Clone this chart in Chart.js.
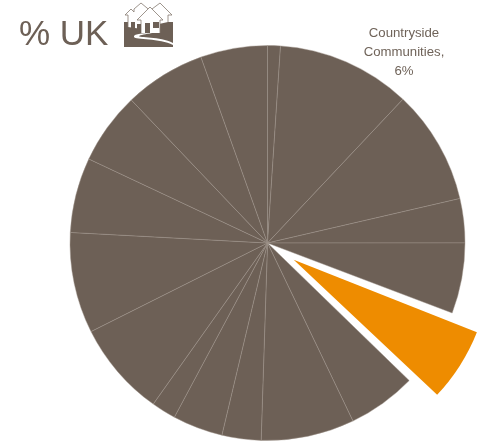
<!DOCTYPE html>
<html>
<head>
<meta charset="utf-8">
<style>
html,body{margin:0;padding:0;background:#fff;overflow:hidden}
#wrap{position:relative;width:487px;height:442px}
</style>
<script src="https://cdn.jsdelivr.net/npm/chart.js@4"></script>
</head>
<body>
<div id="wrap"><canvas id="chart" width="487" height="442"></canvas></div>
<script>
// Segment names and shares; only the highlighted segment carries a label.
const categories = ['S1','S2','S3','S4','S5','Countryside Communities','S7','S8','S9','S10','S11','S12','S13','S14','S15','S16','S17'];
const shares = [0.97,10.13,8.64,3.33,5.33,6,5.18,7.05,2.95,3.79,1.85,7.18,7.62,5.67,5.44,6.13,5.05];
const highlighted = 'Countryside Communities';
const titleText = '% UK';

const BROWN = '#6d6056';
const ORANGE = '#ee8c00';
const PIE_RADIUS = 197.5;
const EXPLODE_OFFSET = 124;
const isHighlighted = i => categories[i] === highlighted;

// Small village pictogram beside the heading.
function drawVillageIcon(ctx) {
  ctx.save();
  ctx.fillStyle = BROWN;
  ctx.fillRect(124, 22, 49, 25);
  ctx.lineWidth = 0.8;
  ctx.strokeStyle = '#857a70';
  ctx.lineJoin = 'miter';
  const houses = [
    [[128,27],[128,15],[125,15],[131,9],[134,12],[134,9],[141,3],[153,13],[149,13],[149,30]],
    [[150,26],[150,12],[148,12],[160,3],[172,15],[168,15],[168,22]],
    [[141,33],[141,20],[137,20],[150,7],[163,20],[160,20],[160,33]]
  ];
  houses.forEach(points => {
    ctx.beginPath();
    points.forEach(([x, y], i) => i ? ctx.lineTo(x, y) : ctx.moveTo(x, y));
    ctx.fillStyle = '#fff';
    ctx.fill();
    ctx.stroke();
  });
  ctx.fillStyle = BROWN;
  ctx.fillRect(145, 23, 5, 10);
  ctx.fillRect(153, 22, 6, 6);
  ctx.fillRect(131, 22, 4, 11);
  ctx.fillRect(137, 24, 4, 9);
  ctx.fillRect(124, 33, 49, 14);
  // Winding road through the ground block.
  ctx.fillStyle = '#fff';
  ctx.beginPath();
  ctx.moveTo(152, 33);
  ctx.bezierCurveTo(142, 33, 133, 34, 134, 37);
  ctx.bezierCurveTo(135, 40, 160, 38, 173, 45);
  ctx.lineTo(173, 43);
  ctx.bezierCurveTo(160, 36, 138, 38, 139, 36);
  ctx.bezierCurveTo(140, 35, 146, 34, 152, 33);
  ctx.closePath();
  ctx.fill();
  ctx.restore();
}

// Arc elements widen their outer radius along with the offset;
// this keeps the exploded slice at the same radius as the rest of the pie.
const keepExplodedRadius = {
  id: 'keepExplodedRadius',
  afterDatasetsUpdate(chart) {
    chart.getDatasetMeta(0).data.forEach((arc, i) => {
      if (isHighlighted(i)) arc.outerRadius = PIE_RADIUS - EXPLODE_OFFSET / 6.5;
    });
  }
};

const annotations = {
  id: 'annotations',
  afterDraw(chart) {
    const ctx = chart.ctx;
    ctx.save();
    ctx.fillStyle = BROWN;
    ctx.textBaseline = 'alphabetic';
    ctx.textAlign = 'left';
    ctx.font = '35px "Liberation Sans"';
    ctx.fillText(titleText, 19, 45);
    ctx.fillStyle = '#6f6359';
    ctx.textAlign = 'center';
    ctx.font = '13.2px "Liberation Sans"';
    const idx = categories.indexOf(highlighted);
    const words = highlighted.split(' ');
    const lines = [words[0], words[1] + ',', shares[idx] + '%'];
    lines.forEach((line, i) => ctx.fillText(line, 404, 37 + i * 19));
    ctx.restore();
    drawVillageIcon(ctx);
  }
};

new Chart(document.getElementById('chart'), {
  type: 'pie',
  data: {
    labels: categories,
    datasets: [{
      data: shares,
      radius: PIE_RADIUS,
      backgroundColor: categories.map((_, i) => isHighlighted(i) ? ORANGE : BROWN),
      borderColor: '#a0968e',
      borderWidth: categories.map((_, i) => isHighlighted(i) ? 0 : 0.45),
      offset: categories.map((_, i) => isHighlighted(i) ? EXPLODE_OFFSET : 0)
    }]
  },
  options: {
    responsive: false,
    animation: false,
    layout: { padding: { left: 48, top: 44, right: 0, bottom: 0 } },
    plugins: { legend: { display: false }, tooltip: { enabled: false }, title: { display: false } }
  },
  plugins: [keepExplodedRadius, annotations]
});
</script>
</body>
</html>
